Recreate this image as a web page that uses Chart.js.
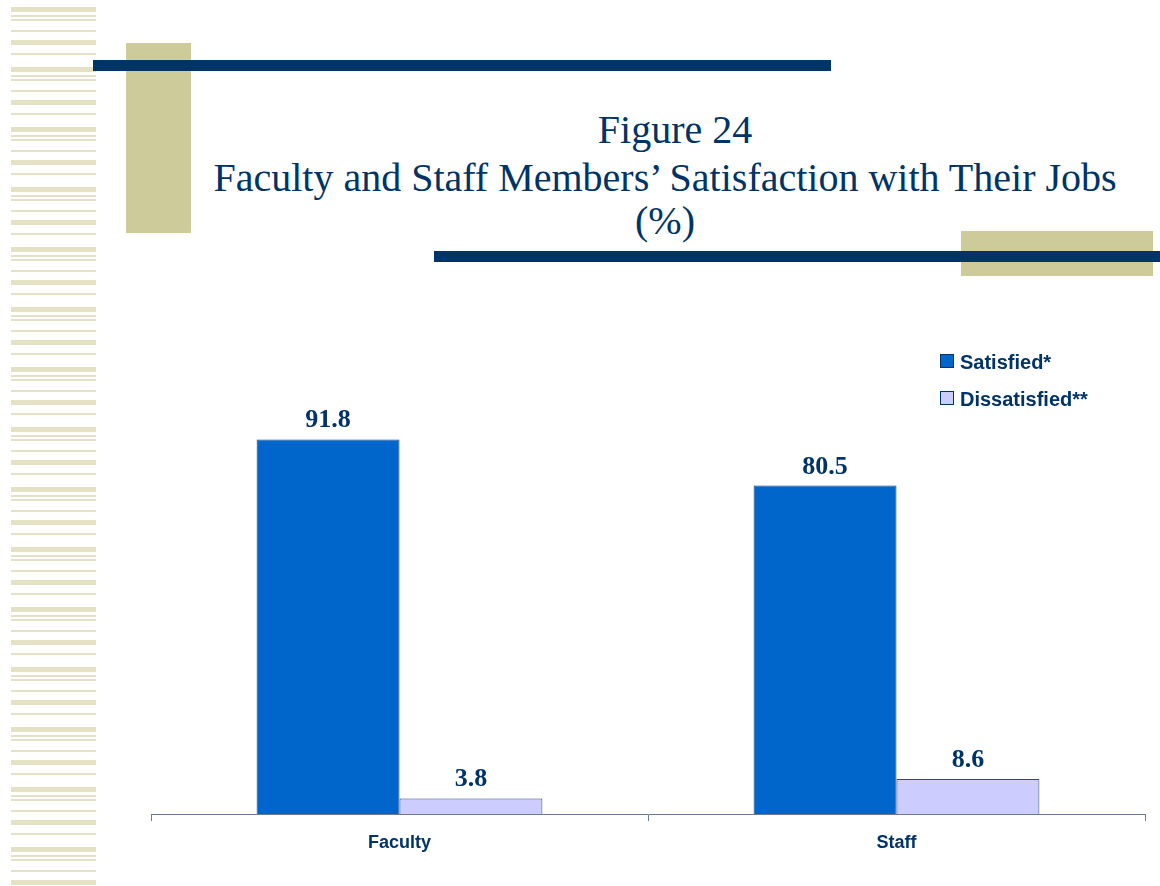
<!DOCTYPE html>
<html>
<head>
<meta charset="utf-8">
<script src="https://cdn.jsdelivr.net/npm/chart.js@4/dist/chart.umd.min.js"></script>
<style>
  html, body { margin: 0; padding: 0; background: #fff; }
  body { width: 1160px; height: 886px; position: relative; overflow: hidden; }
  .stripes {
    position: absolute; left: 11px; top: 0; width: 85px; height: 886px;
    background: repeating-linear-gradient(to bottom,
      #fff 0px, #fff 7px, #e4e1c5 7px, #e4e1c5 12px, #fff 12px, #fff 15px,
      #e4e1c5 15px, #e4e1c5 17px, #fff 17px, #fff 19px, #e4e1c5 19px, #e4e1c5 21px,
      #fff 21px, #fff 30px, #e4e1c5 30px, #e4e1c5 32px, #fff 32px, #fff 40px,
      #e4e1c5 40px, #e4e1c5 45px, #fff 45px, #fff 53px, #e4e1c5 53px, #e4e1c5 55px,
      #fff 55px, #fff 60px);
  }
  .olive { position: absolute; background: #cdcb99; }
  .navy { position: absolute; background: #003366; }
  .title {
    position: absolute; width: 1000px; text-align: center;
    font-family: "Liberation Serif", "Times New Roman", serif; font-size: 40px;
    color: #003366; line-height: 46px;
  }
  #chartBox { position: absolute; left: 0; top: 300px; width: 1160px; height: 586px; }
  .legend { position: absolute; left: 940px; font-family: "Liberation Sans", Arial, sans-serif;
    font-weight: bold; font-size: 20px; color: #003366; line-height: 24px; }
  .legend span { display: inline-block; width: 12px; height: 12px; border: 1px solid #003366;
    margin-right: 6px; vertical-align: 1px; }
</style>
</head>
<body>
<div class="stripes"></div>
<div class="olive" style="left:126px;top:43px;width:65px;height:190px"></div>
<div class="navy" style="left:93px;top:60px;width:738px;height:11px"></div>
<div class="olive" style="left:961px;top:231px;width:192px;height:45px"></div>
<div class="navy" style="left:434px;top:251px;width:726px;height:11px"></div>
<div class="title" style="left:175px;top:107px">Figure 24</div>
<div class="title" style="left:165px;top:155px">Faculty and Staff Members’ Satisfaction with Their Jobs</div>
<div class="title" style="left:165px;top:198px">(%)</div>
<div id="chartBox"><canvas id="myChart" width="1160" height="586"></canvas></div>
<div id="legend"></div>
<script>
const categories = ['Faculty', 'Staff'];
const satisfied = [91.8, 80.5];
const dissatisfied = [3.8, 8.6];
const seriesNames = ['Satisfied*', 'Dissatisfied**'];
const seriesColors = ['#0066cc', '#ccccff'];

const valueLabels = {
  id: 'valueLabels',
  afterDatasetsDraw(chart) {
    const ctx = chart.ctx;
    ctx.save();
    ctx.font = 'bold 26px "Liberation Serif", "Times New Roman", serif';
    ctx.fillStyle = '#003366';
    ctx.textAlign = 'center';
    ctx.textBaseline = 'alphabetic';
    chart.data.datasets.forEach((ds, i) => {
      chart.getDatasetMeta(i).data.forEach((bar, j) => {
        ctx.fillText(ds.data[j].toFixed(1), bar.x, bar.y - 12);
      });
    });
    ctx.restore();
  }
};

const ctx = document.getElementById('myChart').getContext('2d');
const myChart = new Chart(ctx, {
  type: 'bar',
  data: {
    labels: categories,
    datasets: [
      { label: seriesNames[0], data: satisfied, backgroundColor: seriesColors[0],
        borderColor: '#1f3f73', borderWidth: 1, borderSkipped: 'bottom' },
      { label: seriesNames[1], data: dissatisfied, backgroundColor: seriesColors[1],
        borderColor: '#2a4a80', borderWidth: 1, borderSkipped: 'bottom' }
    ]
  },
  options: {
    responsive: false,
    animation: false,
    layout: { padding: { left: 151, right: 15, top: 106, bottom: 12 } },
    plugins: { legend: { display: false }, tooltip: { enabled: false } },
    datasets: { bar: { categoryPercentage: 0.575, barPercentage: 1 } },
    scales: {
      x: {
        grid: { drawOnChartArea: false, drawTicks: true, tickLength: 7, color: '#6b7b95', offset: true },
        border: { display: true, color: '#6b7b95' },
        ticks: { color: '#003366', padding: 11,
          font: { family: '"Liberation Sans", Arial, sans-serif', size: 18, weight: 'bold' } },
        afterFit(scale) { scale.height = 60; }
      },
      y: { display: false, min: 0, max: 100 }
    }
  },
  plugins: [valueLabels]
});

// html legend built from the datasets
const legendBox = document.getElementById('legend');
myChart.data.datasets.forEach((ds, i) => {
  const item = document.createElement('div');
  item.className = 'legend';
  item.style.top = (350 + i * 37) + 'px';
  item.innerHTML = '<span style="background:' + ds.backgroundColor + '"></span>' + ds.label;
  legendBox.appendChild(item);
});
</script>
</body>
</html>
